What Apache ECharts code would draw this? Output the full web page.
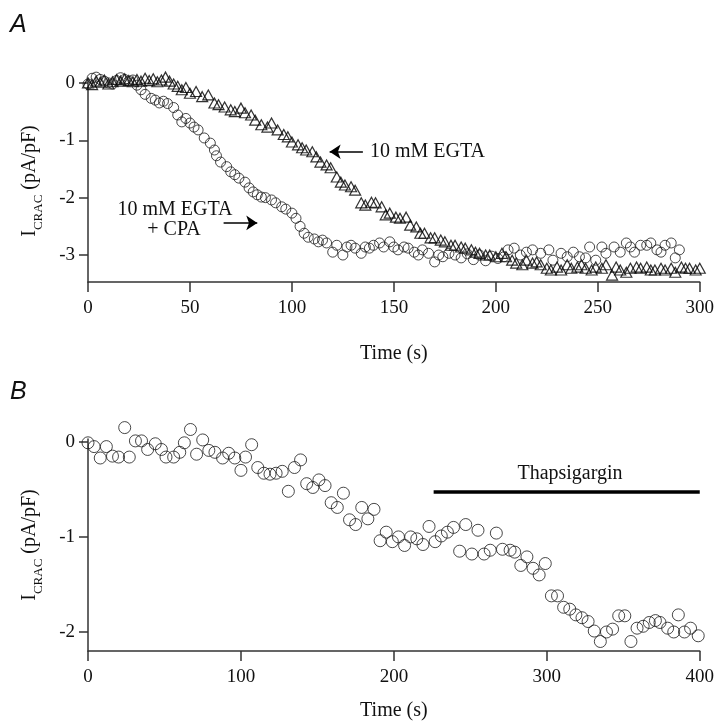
<!DOCTYPE html>
<html><head><meta charset="utf-8">
<script src="https://cdn.jsdelivr.net/npm/echarts@6/dist/echarts.min.js"></script>
<style>html,body{margin:0;padding:0;background:#fff}#c{width:717px;height:722px}</style>
</head><body><div id="c"></div>
<script>
// Panel A: 10 mM EGTA + CPA (circles)
var cpaTime = [0,2,4,6,8,10,12,14,16,18,20,22,24,26,28,31,33,35,37,39,42,44,46,48,50,52,54,57,60,62,63,65,68,70,72,74,77,79,81,83,85,87,90,92,95,97,100,102,104,106,108,111,113,115,117,120,122,125,127,129,131,134,136,138,140,143,145,148,150,152,155,157,160,162,164,167,170,172,174,177,180,183,186,189,192,195,198,201,204,206,209,212,215,218,222,226,228,232,235,238,241,244,246,249,252,254,258,261,264,266,268,271,274,276,279,281,283,286,288,290];
var cpaCurrent = [-0.02,0.08,0.1,0.06,0.03,0.0,-0.02,0.04,0.09,0.06,0.03,0.05,-0.04,-0.12,-0.2,-0.27,-0.3,-0.35,-0.32,-0.36,-0.43,-0.56,-0.68,-0.62,-0.7,-0.77,-0.82,-0.96,-1.05,-1.17,-1.27,-1.38,-1.46,-1.55,-1.6,-1.66,-1.73,-1.83,-1.9,-1.95,-1.99,-2.0,-2.04,-2.09,-2.16,-2.2,-2.27,-2.36,-2.5,-2.62,-2.69,-2.72,-2.77,-2.74,-2.79,-2.95,-2.83,-3.0,-2.86,-2.83,-2.88,-2.97,-2.86,-2.88,-2.83,-2.79,-2.86,-2.77,-2.86,-2.91,-2.86,-2.88,-2.95,-3.0,-2.91,-2.97,-3.12,-3.0,-3.03,-2.97,-3.0,-3.05,-2.98,-3.08,-3.0,-3.1,-3.02,-3.06,-3.03,-2.91,-2.88,-3.0,-2.95,-2.91,-2.97,-2.91,-3.09,-2.97,-3.03,-2.95,-3.03,-3.05,-2.86,-3.09,-2.86,-2.97,-2.86,-2.95,-2.79,-2.86,-2.95,-2.83,-2.83,-2.79,-2.91,-2.95,-2.83,-2.79,-3.05,-2.91];
// Panel A: 10 mM EGTA (triangles)
var egtaTime = [0,2,4,6,8,10,12,14,16,18,20,22,24,26,28,30,32,34,36,38,40,42,44,46,48,50,53,56,59,62,64,67,70,72,75,77,80,82,85,88,90,93,96,98,100,103,105,107,110,112,114,117,119,122,124,126,129,131,134,136,139,141,144,146,148,151,153,156,158,161,163,165,168,170,173,175,178,180,183,185,188,190,192,195,197,200,203,205,208,210,213,215,218,220,222,225,227,230,232,235,237,240,242,244,247,249,252,254,257,259,261,264,266,269,271,274,276,278,281,283,286,288,291,293,295,298,300];
var egtaCurrent = [0.0,-0.03,0.03,0.01,0.05,-0.02,0.02,0.06,0.03,0.07,0.04,0.02,0.06,0.03,0.08,0.04,0.07,0.02,0.05,0.1,0.03,-0.02,-0.06,-0.12,-0.08,-0.18,-0.15,-0.24,-0.21,-0.35,-0.38,-0.42,-0.47,-0.5,-0.44,-0.52,-0.56,-0.65,-0.73,-0.77,-0.7,-0.82,-0.9,-0.94,-1.03,-1.08,-1.13,-1.17,-1.2,-1.29,-1.38,-1.43,-1.48,-1.64,-1.73,-1.78,-1.81,-1.87,-2.09,-2.13,-2.08,-2.09,-2.16,-2.3,-2.27,-2.34,-2.36,-2.34,-2.48,-2.51,-2.62,-2.62,-2.7,-2.7,-2.74,-2.77,-2.83,-2.83,-2.86,-2.88,-2.91,-2.95,-2.97,-3.0,-3.0,-3.03,-2.97,-3.03,-3.09,-3.14,-3.17,-3.09,-3.14,-3.12,-3.17,-3.23,-3.26,-3.21,-3.26,-3.17,-3.23,-3.21,-3.17,-3.23,-3.26,-3.21,-3.23,-3.17,-3.35,-3.21,-3.26,-3.3,-3.23,-3.21,-3.23,-3.21,-3.26,-3.26,-3.23,-3.26,-3.23,-3.3,-3.21,-3.23,-3.23,-3.26,-3.23];
// Panel B: thapsigargin experiment
var thapsTime = [0,4,8,12,16,20,24,27,31,35,39,44,48,51,56,60,63,67,71,75,79,83,88,92,96,100,103,107,111,115,119,123,127,131,135,139,143,147,151,155,159,163,167,171,175,179,183,187,191,195,199,203,207,211,215,219,223,227,231,235,239,243,247,251,255,259,263,267,271,276,279,283,287,291,295,299,303,307,311,315,319,323,327,331,335,339,343,347,351,355,359,363,367,371,374,379,383,386,390,394,399];
var thapsCurrent = [-0.01,-0.05,-0.17,-0.05,-0.15,-0.16,0.15,-0.16,0.01,0.01,-0.08,-0.02,-0.08,-0.16,-0.16,-0.11,-0.01,0.13,-0.13,0.02,-0.09,-0.11,-0.17,-0.12,-0.17,-0.3,-0.16,-0.03,-0.27,-0.33,-0.34,-0.33,-0.31,-0.52,-0.27,-0.19,-0.44,-0.48,-0.4,-0.46,-0.64,-0.69,-0.54,-0.82,-0.87,-0.69,-0.81,-0.71,-1.04,-0.95,-1.05,-1.0,-1.09,-1.0,-1.02,-1.08,-0.89,-1.05,-0.99,-0.95,-0.9,-1.15,-0.87,-1.18,-0.93,-1.18,-1.14,-0.96,-1.13,-1.14,-1.16,-1.3,-1.21,-1.33,-1.4,-1.28,-1.62,-1.62,-1.74,-1.76,-1.82,-1.85,-1.89,-1.99,-2.1,-2.0,-1.97,-1.83,-1.83,-2.1,-1.96,-1.94,-1.9,-1.88,-1.9,-1.96,-2.0,-1.82,-2.0,-1.96,-2.04];
var xTicksA = [0,50,100,150,200,250,300];
var yTicksA = [0,-1,-2,-3];
var xTicksB = [0,100,200,300,400];
var yTicksB = [0,-1,-2];
var thapsBar = [226,400,-0.52];

function zip(a,b){return a.map(function(v,i){return [v,b[i]];});}
var serif = 'Liberation Serif';
var axisCol = '#333';
function xAx(idx,max,interval,gap){
  return {type:'value',gridIndex:idx,min:0,max:max,interval:interval,
    name:'Time (s)',nameLocation:'middle',nameGap:gap,
    nameTextStyle:{fontFamily:serif,fontSize:20,color:'#111'},
    axisLine:{show:true,onZero:false,lineStyle:{color:axisCol,width:1.5}},
    axisTick:{show:true,inside:false,length:10,lineStyle:{color:axisCol,width:1.5}},
    axisLabel:{fontFamily:serif,fontSize:19,color:'#111',margin:17},
    splitLine:{show:false}};
}
function yAx(idx,min,max,ticks){
  return {type:'value',gridIndex:idx,min:min,max:max,
    name:'{a|I}{b|CRAC}{a| (pA/pF)}',nameLocation:'middle',nameGap:48,nameRotate:90,
    nameTextStyle:{rich:{a:{fontFamily:serif,fontSize:20,color:'#111',lineHeight:22,verticalAlign:'bottom'},
                         b:{fontFamily:serif,fontSize:13,color:'#111',lineHeight:22,verticalAlign:'bottom',padding:[0,0,-5,0]}}},
    axisLine:{show:true,onZero:false,lineStyle:{color:axisCol,width:1.5}},
    axisTick:{show:true,inside:false,length:9,customValues:ticks,lineStyle:{color:axisCol,width:1.5}},
    axisLabel:{fontFamily:serif,fontSize:19,color:'#111',margin:13,customValues:ticks},
    splitLine:{show:false}};
}
var mkC = {color:'rgba(0,0,0,0)',borderColor:'#1a1a1a',borderWidth:1};
var mkT = {color:'rgba(0,0,0,0)',borderColor:'#000',borderWidth:1.2};
var option = {
  animation:false,
  grid:[{left:88,right:15,top:80,height:202},{left:88,right:13,top:439,height:214.5}],
  xAxis:[xAx(0,300,50,62),xAx(1,400,100,50)],
  yAxis:[yAx(0,-3.47,0.05,yTicksA),yAx(1,-2.2,0.03,yTicksB)],
  series:[
    {type:'scatter',xAxisIndex:0,yAxisIndex:0,data:zip(egtaTime,egtaCurrent),symbol:'triangle',symbolSize:[11,10],clip:false,itemStyle:mkT,
     markLine:{silent:true,symbol:['none','arrow'],symbolSize:11,label:{show:false},lineStyle:{color:'#000',width:1.5,type:'solid'},
       data:[[{coord:[134.8,-1.2]},{coord:[118.5,-1.2]}]]}},
    {type:'scatter',xAxisIndex:0,yAxisIndex:0,data:zip(cpaTime,cpaCurrent),symbol:'circle',symbolSize:10,clip:false,itemStyle:mkC,
     markLine:{silent:true,symbol:['none','arrow'],symbolSize:11,label:{show:false},lineStyle:{color:'#000',width:1.5,type:'solid'},
       data:[[{coord:[66.5,-2.44]},{coord:[83,-2.44]}]]}},
    {type:'scatter',xAxisIndex:1,yAxisIndex:1,data:zip(thapsTime,thapsCurrent),symbol:'circle',symbolSize:12,clip:false,itemStyle:mkC,
     markLine:{silent:true,symbol:['none','none'],label:{show:false},lineStyle:{color:'#000',width:3.5,type:'solid'},
       data:[[{coord:[thapsBar[0],thapsBar[2]]},{coord:[thapsBar[1],thapsBar[2]]}]]}}
  ],
  graphic:[
    {type:'text',left:10,top:13,style:{text:'A',font:'italic 25px "Liberation Sans"',fill:'#111'}},
    {type:'text',left:10,top:380,style:{text:'B',font:'italic 25px "Liberation Sans"',fill:'#111'}},
    {type:'text',x:370,y:152,style:{text:'10 mM EGTA',font:'20px "Liberation Serif"',fill:'#111',verticalAlign:'middle',align:'left'}},
    {type:'text',x:175,y:210,style:{text:'10 mM EGTA',font:'20px "Liberation Serif"',fill:'#111',verticalAlign:'middle',align:'center'}},
    {type:'text',x:174,y:230,style:{text:'+ CPA',font:'20px "Liberation Serif"',fill:'#111',verticalAlign:'middle',align:'center'}},
    {type:'text',x:570,y:474,style:{text:'Thapsigargin',font:'20px "Liberation Serif"',fill:'#111',verticalAlign:'middle',align:'center'}}
  ]
};
var chart = echarts.init(document.getElementById('c'),null,{renderer:'canvas'});
chart.setOption(option);
</script></body></html>
